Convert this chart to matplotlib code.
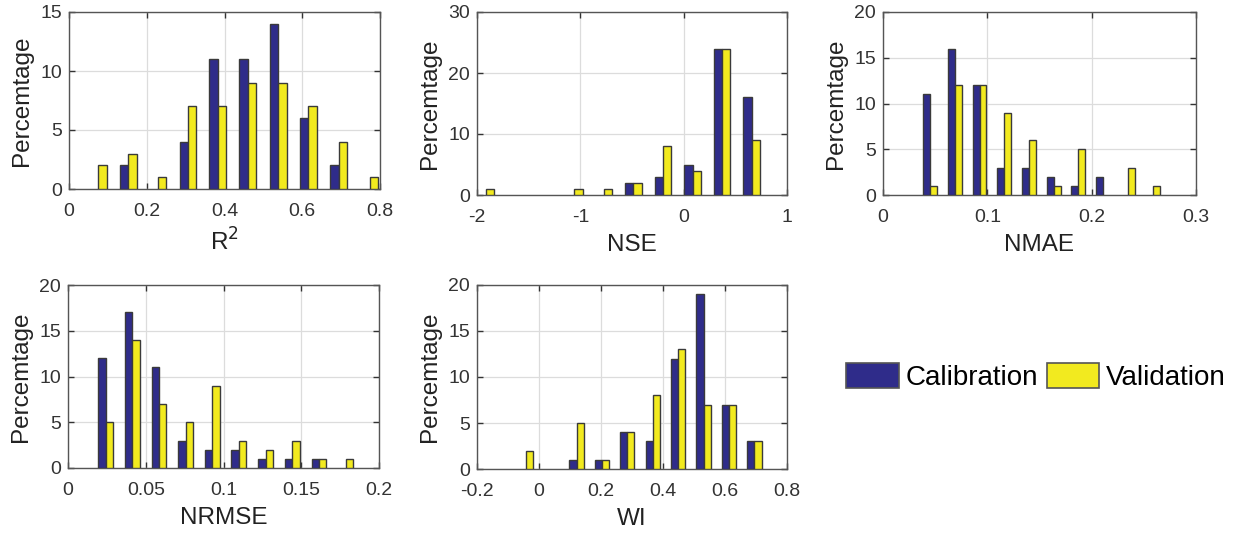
import matplotlib
matplotlib.use("Agg")
import matplotlib.pyplot as plt
import numpy as np
from matplotlib.patches import Patch

plt.rcParams['font.family'] = ['Liberation Sans', 'DejaVu Sans']

# Histogram bin centres and percentages for each performance metric
r2_centers = [0.075, 0.152, 0.229, 0.306, 0.383, 0.460, 0.538, 0.616, 0.694, 0.773]
r2_cal = [0, 2, 0, 4, 11, 11, 14, 6, 2, 0]
r2_val = [2, 3, 1, 7, 7, 9, 9, 7, 4, 1]

nse_centers = [-1.916, -1.630, -1.344, -1.058, -0.772, -0.486, -0.200, 0.086, 0.372, 0.658]
nse_cal = [0, 0, 0, 0, 0, 2, 3, 5, 24, 16]
nse_val = [1, 0, 0, 1, 1, 2, 8, 4, 24, 9]

nmae_centers = [0.0451, 0.0688, 0.0925, 0.1162, 0.1399, 0.1636, 0.1873, 0.2110, 0.2347, 0.2584]
nmae_cal = [11, 16, 12, 3, 3, 2, 1, 2, 0, 0]
nmae_val = [1, 12, 12, 9, 6, 1, 5, 0, 3, 1]

nrmse_centers = [0.0242, 0.0413, 0.0585, 0.0756, 0.0928, 0.1099, 0.1271, 0.1442, 0.1614, 0.1785]
nrmse_cal = [12, 17, 11, 3, 2, 2, 1, 1, 1, 0]
nrmse_val = [5, 14, 7, 5, 9, 3, 2, 3, 1, 1]

wi_centers = [-0.043, 0.039, 0.121, 0.203, 0.285, 0.367, 0.449, 0.531, 0.613, 0.695]
wi_cal = [0, 0, 1, 1, 4, 3, 12, 19, 7, 3]
wi_val = [2, 0, 5, 1, 4, 8, 13, 7, 7, 3]

series_names = ["Calibration", "Validation"]
CAL_COLOR = "#2F2C8A"
VAL_COLOR = "#F2EA1F"
EDGE = "#3a3a3a"

W, H = 1239, 533
fig = plt.figure(figsize=(W / 100, H / 100), dpi=100)


def px_axes(left, top, right, bottom):
    return fig.add_axes([left / W, 1 - bottom / H, (right - left) / W, (bottom - top) / H])


def draw_bars(ax, x, heights, width, color):
    bars = ax.bar(x, heights, width=width, color=color, edgecolor=EDGE,
                  linewidth=1.0, zorder=3)
    for patch, h in zip(bars, heights):
        if h == 0:
            patch.set_visible(False)


panels = [
    # (pixel box, centres, cal, val, xlim, xticks, ylim, yticks, xlabel)
    ((69, 12, 380, 189), r2_centers, r2_cal, r2_val, (0, 0.8),
     [0, 0.2, 0.4, 0.6, 0.8], (0, 15), [0, 5, 10, 15], "R$^2$"),
    ((477, 12, 787, 195), nse_centers, nse_cal, nse_val, (-2, 1),
     [-2, -1, 0, 1], (0, 30), [0, 10, 20, 30], "NSE"),
    ((883, 12, 1196, 195), nmae_centers, nmae_cal, nmae_val, (0, 0.3),
     [0, 0.1, 0.2, 0.3], (0, 20), [0, 5, 10, 15, 20], "NMAE"),
    ((68, 285, 379, 468), nrmse_centers, nrmse_cal, nrmse_val, (0, 0.2),
     [0, 0.05, 0.1, 0.15, 0.2], (0, 20), [0, 5, 10, 15, 20], "NRMSE"),
    ((477, 285, 787, 469), wi_centers, wi_cal, wi_val, (-0.2, 0.8),
     [-0.2, 0, 0.2, 0.4, 0.6, 0.8], (0, 20), [0, 5, 10, 15, 20], "WI"),
]

for box, centers, cal, val, xlim, xticks, ylim, yticks, xlabel in panels:
    ax = px_axes(*box)
    c = np.asarray(centers)
    step = np.mean(np.diff(c))
    w = 0.28 * step
    draw_bars(ax, c - w / 2, cal, w, CAL_COLOR)
    draw_bars(ax, c + w / 2, val, w, VAL_COLOR)
    ax.set_xlim(*xlim)
    ax.set_ylim(*ylim)
    ax.set_xticks(xticks)
    ax.set_yticks(yticks)
    ax.set_xticklabels([f"{t:g}" for t in xticks])
    ax.grid(True, color="#dcdcdc", linewidth=0.9, zorder=0)
    ax.set_axisbelow(True)
    for s in ax.spines.values():
        s.set_color("#555555")
        s.set_linewidth(1.0)
    ax.tick_params(direction="in", length=4, width=1.0, color="#333333",
                   top=True, right=True, labelsize=14, labelcolor="#333333")
    ax.tick_params(axis="x", pad=10)
    ax.tick_params(axis="y", pad=5)
    ax.set_ylabel("Percemtage", fontsize=17.5, color="#222222", labelpad=5)
    ax.set_xlabel(xlabel, fontsize=17.5, color="#222222", labelpad=6)

handles = [Patch(facecolor=CAL_COLOR, edgecolor="#555555", linewidth=1.2),
           Patch(facecolor=VAL_COLOR, edgecolor="#555555", linewidth=1.2)]
fig.legend(handles, series_names, loc="center left", bbox_to_anchor=(846 / W, 1 - 377 / H),
           ncol=2, frameon=False, fontsize=20, handlelength=1.9, handleheight=1.0,
           handletextpad=0.25, columnspacing=0.3, borderpad=0, borderaxespad=0)

fig.savefig("out.png", dpi=100)
